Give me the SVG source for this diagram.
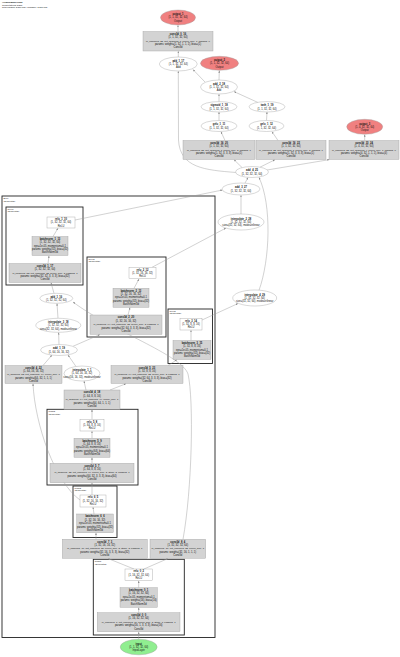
<svg xmlns="http://www.w3.org/2000/svg" width="400" height="657" viewBox="0 0 400 657">
<defs>
<style>
text{font-family:"Liberation Sans",Arial,sans-serif;font-size:2.6px;fill:#111;text-anchor:middle}
text.b{font-weight:bold}
text.s{font-size:2.4px}
text.t{text-anchor:start;font-size:2.2px}
.n{fill:#fff;stroke:#a0a0a0;stroke-width:0.4}
.g{fill:#d3d3d3;stroke:#a0a0a0;stroke-width:0.4}
.red{fill:#f08080;stroke:#a0a0a0;stroke-width:0.4}
.grn{fill:#90ee90;stroke:#a0a0a0;stroke-width:0.4}
.cl{fill:none;stroke:#222;stroke-width:0.9}
.e{fill:none;stroke:#9a9a9a;stroke-width:0.45;marker-end:url(#ah)}
</style>
<marker id="ah" viewBox="0 0 10 10" refX="10" refY="5" markerWidth="2.2" markerHeight="2.2" markerUnits="userSpaceOnUse" orient="auto"><path d="M0,1 L10,5 L0,9 z" fill="#888"/></marker>
</defs>
<rect width="400" height="657" fill="#fff"/>
<g id="title">
<text class="t b" x="2" y="3.3">AlexNN/Model.onnx</text>
<text class="t" x="2" y="5.5">Computational graph</text>
<text class="t" x="2" y="7.7">Total params: 2,318,785 | Trainable: 2,318,785</text>
</g>
<g id="clusters">
<rect class="cl" x="2" y="196" width="213" height="441.5"/>
<text class="t" x="3.5" y="199.3">Body</text><text class="t" x="3.5" y="201.6">(Sequential)</text>
<rect class="cl" x="6" y="207" width="77" height="78"/>
<text class="t" x="7.5" y="210">layer1</text><text class="t" x="7.5" y="212.3">(Sequential)</text>
<rect class="cl" x="87" y="257" width="79" height="80"/>
<text class="t" x="88.5" y="260">layer2</text><text class="t" x="88.5" y="262.3">(Sequential)</text>
<rect class="cl" x="168" y="309" width="44.5" height="54.5"/>
<text class="t" x="169.5" y="312">layer3</text><text class="t" x="169.5" y="314.3">(Sequential)</text>
<rect class="cl" x="47" y="409.3" width="91" height="75.7"/>
<text class="t" x="48.5" y="412.3">down3</text><text class="t" x="48.5" y="414.6">(Sequential)</text>
<rect class="cl" x="73" y="486" width="44" height="51.5"/>
<text class="t" x="74.5" y="489">down2</text><text class="t" x="74.5" y="491.3">(Sequential)</text>
<rect class="cl" x="93.3" y="559.3" width="91" height="75.7"/>
<text class="t" x="94.8" y="562.3">down1</text><text class="t" x="94.8" y="564.6">(Sequential)</text>
</g>
<g id="edges">
<path class="e" d="M138.7,639.2 L138.7,632"/>
<path class="e" d="M138.7,612.7 L138.7,607.5"/>
<path class="e" d="M138.7,587.7 L138.7,580.8"/>
<path class="e" d="M134,569 L108,558.5"/>
<path class="e" d="M144,569 L168,558.5"/>
<path class="e" d="M96,539.3 L96,532.9"/>
<path class="e" d="M94,514 L93,507.2"/>
<path class="e" d="M92,495 L92,482.9"/>
<path class="e" d="M80,500 C55,482 35,425 33,383.7"/>
<path class="e" d="M92,463.3 L92,457.5"/>
<path class="e" d="M92,438.3 L92,431.2"/>
<path class="e" d="M92,419.3 L92,409.5"/>
<path class="e" d="M86,390 L84,381.1"/>
<path class="e" d="M110,390 L126,383.7"/>
<path class="e" d="M43,365.5 L52,355"/>
<path class="e" d="M76,366.5 L68,355"/>
<path class="e" d="M168,365.5 L177,359.7"/>
<path class="e" d="M183,539.3 C192,490 194,400 188,374 C182,355 110,330 73,302"/>
<path class="e" d="M59,344.5 L58.6,332.4"/>
<path class="e" d="M73,346.3 L100,334.5"/>
<path class="e" d="M58,318.3 L57,303.4"/>
<path class="e" d="M54,293.3 L51,282.7"/>
<path class="e" d="M48,263.5 L49,255.7"/>
<path class="e" d="M53,236.5 L58,228.2"/>
<path class="e" d="M75,220 L222.5,190"/>
<path class="e" d="M128,315 L130,307.5"/>
<path class="e" d="M134,288.3 L139,279"/>
<path class="e" d="M152,267.3 L226,228"/>
<path class="e" d="M191,340.5 L191,330.2"/>
<path class="e" d="M202,320 L238,303.5"/>
<path class="e" d="M259,290.3 C270,260 272,205 259,177.4"/>
<path class="e" d="M241,214 L241,195.2"/>
<path class="e" d="M245,183.1 L248,177.4"/>
<path class="e" d="M242,167.5 L234,159.7"/>
<path class="e" d="M260,167.2 L275,159.7"/>
<path class="e" d="M267,170 L329.5,159.6"/>
<path class="e" d="M236,172.5 C205,170 180,168 178.5,140 L178.3,71.2"/>
<path class="e" d="M225,140.5 L221,131.7"/>
<path class="e" d="M278,140.5 L272,131.7"/>
<path class="e" d="M364.7,140.5 L364.7,134.5"/>
<path class="e" d="M219,120.5 L219,112"/>
<path class="e" d="M266.5,120.5 L267,112"/>
<path class="e" d="M219,101.7 L219,94.2"/>
<path class="e" d="M258,102.5 L234,91.6"/>
<path class="e" d="M219,80 L219.3,70.5"/>
<path class="e" d="M205,82 L193,69.6"/>
<path class="e" d="M178.3,57 L178.3,51.2"/>
<path class="e" d="M178,31.5 L178,25.2"/>
</g>
<g id="output_1"><ellipse class="red" cx="178" cy="17.5" rx="17.5" ry="7.5"/>
<text class="b" x="178" y="15.4">output_1</text><text x="178" y="18.4">(1, 1, 32, 32, 64)</text><text x="178" y="21.7">Output</text></g>
<g id="conv3d_0_16"><rect class="g" x="143" y="31.5" width="70" height="19.5"/>
<text class="b" x="178" y="34.8">conv3d_0_16</text><text x="178" y="38.2">(1, 1, 32, 32, 64)</text><text class="s" x="178" y="41.6">in_channels=32, out_channels=1, kernel_size=1, padding=0</text><text x="178" y="45">params: weight=(1, 32, 1, 1, 1), bias=(1)</text><text x="178" y="48.4">Conv3d</text></g>
<g id="add_1_17"><ellipse class="n" cx="178.3" cy="64" rx="19" ry="7"/>
<text class="b" x="178.3" y="61.9">add_1_17</text><text x="178.3" y="64.9">(1, 1, 32, 32, 64)</text><text x="178.3" y="68.2">Add</text></g>
<g id="output_2"><ellipse class="red" cx="219.5" cy="63.3" rx="19" ry="7"/>
<text class="b" x="219.5" y="61.2">output_2</text><text x="219.5" y="64.2">(1, 1, 32, 32, 64)</text><text x="219.5" y="67.5">Output</text></g>
<g id="add_2_18"><ellipse class="n" cx="219" cy="87" rx="18.5" ry="7"/>
<text class="b" x="219" y="84.9">add_2_18</text><text x="219" y="87.9">(1, 1, 32, 32, 64)</text><text x="219" y="91.2">Add</text></g>
<g id="sigmoid_1_18"><ellipse class="n" cx="219" cy="106.8" rx="18" ry="5.2"/>
<text class="b" x="219" y="106.2">sigmoid_1_18</text><text x="219" y="109.5">(1, 1, 32, 32, 64)</text></g>
<g id="tanh_1_19"><ellipse class="n" cx="267" cy="106.8" rx="18" ry="5.2"/>
<text class="b" x="267" y="106.2">tanh_1_19</text><text x="267" y="109.5">(1, 1, 32, 32, 64)</text></g>
<g id="gelu_1_11"><ellipse class="n" cx="219" cy="126" rx="18" ry="5.5"/>
<text class="b" x="219" y="125.4">gelu_1_11</text><text x="219" y="128.7">(1, 1, 32, 32, 64)</text></g>
<g id="gelu_1_12"><ellipse class="n" cx="266.5" cy="126" rx="17.5" ry="5.5"/>
<text class="b" x="266.5" y="125.4">gelu_1_12</text><text x="266.5" y="128.7">(1, 1, 32, 32, 64)</text></g>
<g id="output_3"><ellipse class="red" cx="364.7" cy="126.8" rx="18" ry="7.5"/>
<text class="b" x="364.7" y="124.7">output_3</text><text x="364.7" y="127.7">(1, 4, 32, 32, 64)</text><text x="364.7" y="131">Output</text></g>
<g id="conv3d_16_20"><rect class="g" x="183" y="140.5" width="72" height="19"/>
<text class="b" x="219" y="143.8">conv3d_16_20</text><text x="219" y="147.2">(1, 1, 32, 32, 64)</text><text class="s" x="219" y="150.6">in_channels=32, out_channels=1, kernel_size=3, padding=1</text><text x="219" y="154">params: weight=(1, 32, 3, 3, 3), bias=(1)</text><text x="219" y="157.4">Conv3d</text></g>
<g id="conv3d_16_22"><rect class="g" x="256" y="140.5" width="70" height="19"/>
<text class="b" x="291" y="143.8">conv3d_16_22</text><text x="291" y="147.2">(1, 1, 32, 32, 64)</text><text class="s" x="291" y="150.6">in_channels=32, out_channels=1, kernel_size=3, padding=1</text><text x="291" y="154">params: weight=(1, 32, 3, 3, 3), bias=(1)</text><text x="291" y="157.4">Conv3d</text></g>
<g id="conv3d_33_24"><rect class="g" x="329" y="140.5" width="70" height="19"/>
<text class="b" x="364" y="143.8">conv3d_33_24</text><text x="364" y="147.2">(1, 4, 32, 32, 64)</text><text class="s" x="364" y="150.6">in_channels=32, out_channels=4, kernel_size=1, padding=0</text><text x="364" y="154">params: weight=(4, 32, 1, 1, 1), bias=(4)</text><text x="364" y="157.4">Conv3d</text></g>
<g id="add_4_25"><ellipse class="n" cx="252" cy="172" rx="16.5" ry="5.5"/>
<text class="b" x="252" y="171.4">add_4_25</text><text x="252" y="174.7">(1, 32, 32, 32, 64)</text></g>
<g id="add_3_27"><ellipse class="n" cx="241" cy="189" rx="19" ry="6"/>
<text class="b" x="241" y="188.4">add_3_27</text><text x="241" y="191.7">(1, 32, 32, 32, 64)</text></g>
<g id="interpolate_2_28"><ellipse class="n" cx="241" cy="222" rx="23" ry="8"/>
<text class="b" x="241" y="219.9">interpolate_2_28</text><text x="241" y="222.9">(1, 32, 32, 32, 64)</text><text x="241" y="226.2">size=(32, 32, 64), mode=trilinear</text></g>
<g id="interpolate_4_29"><ellipse class="n" cx="254.7" cy="298" rx="22" ry="8"/>
<text class="b" x="254.7" y="295.9">interpolate_4_29</text><text x="254.7" y="298.9">(1, 32, 32, 32, 64)</text><text x="254.7" y="302.2">size=(32, 32, 64), mode=trilinear</text></g>
<g id="relu_1_10"><rect class="n" x="47" y="217" width="28" height="11"/>
<text class="b" x="61" y="220.2">relu_1_10</text><text x="61" y="223.4">(1, 32, 32, 32, 64)</text><text x="61" y="226.6">ReLU</text></g>
<g id="batchnorm_1_13"><rect class="g" x="32" y="236.5" width="36" height="19"/>
<text class="b" x="50" y="239.8">batchnorm_1_13</text><text x="50" y="243.2">(1, 32, 32, 32, 64)</text><text x="50" y="246.6">eps=1e-05, momentum=0.1</text><text x="50" y="250">params: weight=(32), bias=(32)</text><text x="50" y="253.4">BatchNorm3d</text></g>
<g id="conv3d_1_17"><rect class="g" x="9" y="263.5" width="72" height="19"/>
<text class="b" x="45" y="266.8">conv3d_1_17</text><text x="45" y="270.2">(1, 32, 32, 32, 64)</text><text class="s" x="45" y="273.6">in_channels=32, out_channels=32, kernel_size=3, padding=1</text><text x="45" y="277">params: weight=(32, 32, 3, 3, 3), bias=(32)</text><text x="45" y="280.4">Conv3d</text></g>
<g id="add_1_16"><ellipse class="n" cx="56.3" cy="298.3" rx="16.5" ry="5"/>
<text class="b" x="56.3" y="297.7">add_1_16</text><text x="56.3" y="301">(1, 32, 32, 32, 64)</text></g>
<g id="interpolate_3_18"><ellipse class="n" cx="58.3" cy="325.3" rx="22.5" ry="7"/>
<text class="b" x="58.3" y="323.2">interpolate_3_18</text><text x="58.3" y="326.2">(1, 32, 32, 32, 64)</text><text x="58.3" y="329.5">size=(32, 32, 64), mode=trilinear</text></g>
<g id="add_1_19"><ellipse class="n" cx="59" cy="350" rx="18.5" ry="5.5"/>
<text class="b" x="59" y="349.4">add_1_19</text><text x="59" y="352.7">(1, 64, 16, 16, 32)</text></g>
<g id="relu_2_12"><rect class="n" x="129" y="267.3" width="27" height="11.5"/>
<text class="b" x="142.5" y="270.6">relu_2_12</text><text x="142.5" y="273.9">(1, 32, 16, 16, 32)</text><text x="142.5" y="277.2">ReLU</text></g>
<g id="batchnorm_2_13"><rect class="g" x="113" y="288.3" width="36" height="19"/>
<text class="b" x="131" y="291.6">batchnorm_2_13</text><text x="131" y="295">(1, 32, 16, 16, 32)</text><text x="131" y="298.4">eps=1e-05, momentum=0.1</text><text x="131" y="301.8">params: weight=(32), bias=(32)</text><text x="131" y="305.2">BatchNorm3d</text></g>
<g id="conv3d_2_20"><rect class="g" x="90" y="315" width="72" height="19.3"/>
<text class="b" x="126" y="318.3">conv3d_2_20</text><text x="126" y="321.7">(1, 32, 16, 16, 32)</text><text class="s" x="126" y="325.1">in_channels=64, out_channels=32, kernel_size=3, padding=1</text><text x="126" y="328.5">params: weight=(32, 64, 3, 3, 3), bias=(32)</text><text x="126" y="331.9">Conv3d</text></g>
<g id="relu_3_14"><rect class="n" x="180" y="318.5" width="22" height="11.5"/>
<text class="b" x="191" y="321.8">relu_3_14</text><text x="191" y="325.1">(1, 32, 8, 8, 16)</text><text x="191" y="328.4">ReLU</text></g>
<g id="batchnorm_3_15"><rect class="g" x="173" y="340.5" width="38" height="19"/>
<text class="b" x="192" y="343.8">batchnorm_3_15</text><text x="192" y="347.2">(1, 32, 8, 8, 16)</text><text x="192" y="350.6">eps=1e-05, momentum=0.1</text><text x="192" y="354">params: weight=(32), bias=(32)</text><text x="192" y="357.4">BatchNorm3d</text></g>
<g id="conv3d_4_22"><rect class="g" x="5" y="365.5" width="57" height="18"/>
<text class="b" x="33.5" y="368.7">conv3d_4_22</text><text x="33.5" y="372">(1, 64, 16, 16, 32)</text><text class="s" x="33.5" y="375.3">in_channels=32, out_channels=64, kernel_size=1</text><text x="33.5" y="378.6">params: weight=(64, 32, 1, 1, 1)</text><text x="33.5" y="381.9">Conv3d</text></g>
<g id="interpolate_1_1"><ellipse class="n" cx="82" cy="373.5" rx="18" ry="7.5"/>
<text class="b" x="82" y="371.4">interpolate_1_1</text><text x="82" y="374.4">(1, 64, 16, 16, 32)</text><text x="82" y="377.7">size=(16, 16, 32), mode=trilinear</text></g>
<g id="conv3d_5_23"><rect class="g" x="111" y="365.5" width="72" height="18"/>
<text class="b" x="147" y="368.7">conv3d_5_23</text><text x="147" y="372">(1, 32, 8, 8, 16)</text><text class="s" x="147" y="375.3">in_channels=64, out_channels=32, kernel_size=3, padding=1</text><text x="147" y="378.6">params: weight=(32, 64, 3, 3, 3), bias=(32)</text><text x="147" y="381.9">Conv3d</text></g>
<g id="conv3d_4_18"><rect class="g" x="64" y="390" width="56" height="19.3"/>
<text class="b" x="92" y="393.3">conv3d_4_18</text><text x="92" y="396.7">(1, 64, 8, 8, 16)</text><text class="s" x="92" y="400.1">in_channels=64, out_channels=64, kernel_size=1</text><text x="92" y="403.5">params: weight=(64, 64, 1, 1, 1)</text><text x="92" y="406.9">Conv3d</text></g>
<g id="relu_5_8"><rect class="n" x="80" y="419.3" width="24" height="11.7"/>
<text class="b" x="92" y="422.6">relu_5_8</text><text x="92" y="425.9">(1, 64, 8, 8, 16)</text><text x="92" y="429.2">ReLU</text></g>
<g id="batchnorm_5_9"><rect class="g" x="74" y="438.3" width="36" height="19"/>
<text class="b" x="92" y="441.6">batchnorm_5_9</text><text x="92" y="445">(1, 64, 8, 8, 16)</text><text x="92" y="448.4">eps=1e-05, momentum=0.1</text><text x="92" y="451.8">params: weight=(64), bias=(64)</text><text x="92" y="455.2">BatchNorm3d</text></g>
<g id="conv3d_5_7"><rect class="g" x="50" y="463.3" width="84" height="19.4"/>
<text class="b" x="92" y="466.6">conv3d_5_7</text><text x="92" y="470">(1, 64, 8, 8, 16)</text><text class="s" x="92" y="473.4">in_channels=32, out_channels=64, kernel_size=3, stride=2, padding=1</text><text x="92" y="476.8">params: weight=(64, 32, 3, 3, 3), bias=(64)</text><text x="92" y="480.2">Conv3d</text></g>
<g id="relu_6_5"><rect class="n" x="80" y="495" width="26" height="12"/>
<text class="b" x="93" y="498.3">relu_6_5</text><text x="93" y="501.6">(1, 32, 16, 16, 32)</text><text x="93" y="504.9">ReLU</text></g>
<g id="batchnorm_6_6"><rect class="g" x="76.7" y="514" width="36.6" height="18.7"/>
<text class="b" x="95" y="517.3">batchnorm_6_6</text><text x="95" y="520.7">(1, 32, 16, 16, 32)</text><text x="95" y="524.1">eps=1e-05, momentum=0.1</text><text x="95" y="527.5">params: weight=(32), bias=(32)</text><text x="95" y="530.9">BatchNorm3d</text></g>
<g id="conv3d_7_3"><rect class="g" x="62.3" y="539.3" width="85" height="19"/>
<text class="b" x="104.8" y="542.6">conv3d_7_3</text><text x="104.8" y="546">(1, 32, 16, 16, 32)</text><text class="s" x="104.8" y="549.4">in_channels=16, out_channels=32, kernel_size=3, stride=2, padding=1</text><text x="104.8" y="552.8">params: weight=(32, 16, 3, 3, 3), bias=(32)</text><text x="104.8" y="556.2">Conv3d</text></g>
<g id="conv3d_8_4"><rect class="g" x="150" y="539.3" width="55.7" height="19"/>
<text class="b" x="177.8" y="542.6">conv3d_8_4</text><text x="177.8" y="546">(1, 32, 32, 32, 64)</text><text class="s" x="177.8" y="549.4">in_channels=16, out_channels=32, kernel_size=1</text><text x="177.8" y="552.8">params: weight=(32, 16, 1, 1, 1)</text><text x="177.8" y="556.2">Conv3d</text></g>
<g id="relu_0_2"><rect class="n" x="125" y="569" width="27.7" height="11.7"/>
<text class="b" x="138.8" y="572.3">relu_0_2</text><text x="138.8" y="575.6">(1, 16, 32, 32, 64)</text><text x="138.8" y="578.9">ReLU</text></g>
<g id="batchnorm_0_1"><rect class="g" x="120" y="587.7" width="37.3" height="19.6"/>
<text class="b" x="138.7" y="591">batchnorm_0_1</text><text x="138.7" y="594.4">(1, 16, 32, 32, 64)</text><text x="138.7" y="597.8">eps=1e-05, momentum=0.1</text><text x="138.7" y="601.2">params: weight=(16), bias=(16)</text><text x="138.7" y="604.6">BatchNorm3d</text></g>
<g id="conv3d_0_0"><rect class="g" x="97.3" y="612.7" width="82.7" height="19"/>
<text class="b" x="138.7" y="616">conv3d_0_0</text><text x="138.7" y="619.4">(1, 16, 32, 32, 64)</text><text class="s" x="138.7" y="622.8">in_channels=1, out_channels=16, kernel_size=3, stride=1, padding=1</text><text x="138.7" y="626.2">params: weight=(16, 1, 3, 3, 3), bias=(16)</text><text x="138.7" y="629.6">Conv3d</text></g>
<g id="input"><ellipse class="grn" cx="138.7" cy="647" rx="18.5" ry="7.8"/>
<text class="b" x="138.7" y="644.9">input</text><text x="138.7" y="647.9">(1, 1, 32, 32, 64)</text><text x="138.7" y="651.2">InputLayer</text></g>
</svg>
